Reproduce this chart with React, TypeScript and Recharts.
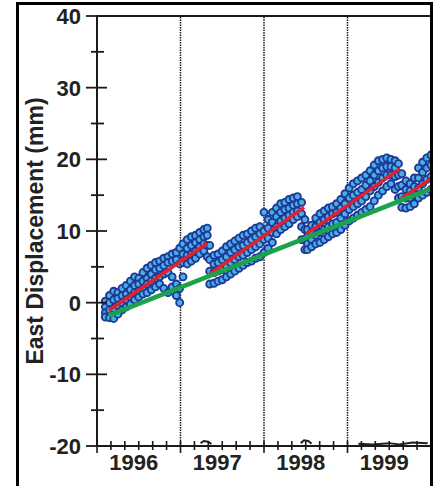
import React from 'react';
import { ComposedChart, Scatter, Line, XAxis, YAxis, ReferenceLine } from 'recharts';

const FONT = '"Liberation Sans", Arial, Helvetica, sans-serif';

// daily east positions, read column by column: [year, values across the band (mm)]
const cloud1996 = [
  [1996.10, 0.2, -0.6, -1.4, -2.0],
  [1996.15, 1.0, 0.0, -1.0, -2.1],
  [1996.20, 1.6, 0.4, -0.8, -2.2],
  [1996.25, 1.4, 0.6, -0.4, -1.6],
  [1996.30, 2.0, 1.0, 0.0, -1.0],
  [1996.35, 2.4, 1.2, 0.4, -0.6],
  [1996.40, 3.0, 1.8, 0.8, -0.2],
  [1996.45, 3.6, 2.4, 1.4, 0.4],
  [1996.50, 3.4, 2.6, 1.6, 0.8],
  [1996.55, 4.2, 3.0, 2.0, 1.2],
  [1996.60, 4.8, 3.4, 2.6, 1.4],
  [1996.65, 5.2, 4.0, 3.0, 1.8],
  [1996.70, 5.6, 4.6, 3.4, 2.2],
  [1996.75, 5.8, 4.8, 3.6, 2.6],
  [1996.80, 6.2, 5.2, 4.0, 2.0],
  [1996.85, 6.4, 5.6, 4.2, 1.4],
  [1996.90, 6.8, 5.8, 3.6, 2.2],
  [1996.95, 7.0, 6.0, 2.6, 1.0],
  [1996.99, 7.6, 5.4, 2.0, 0.0],
  [1997.03, 8.2, 6.8, 5.6, 3.6],
  [1997.08, 8.8, 7.6, 6.6, 5.4],
  [1997.13, 9.2, 8.0, 6.8, 5.8],
  [1997.18, 9.4, 8.4, 7.2, 6.2],
  [1997.23, 9.8, 8.8, 7.8, 6.8],
  [1997.28, 10.2, 9.2, 8.2, 7.2],
  [1997.32, 10.4, 9.4, 8.0, 6.4],
];

const cloud1997 = [
  [1997.35, 8.0, 6.0, 4.4, 2.6],
  [1997.40, 6.6, 5.4, 4.2, 2.7],
  [1997.45, 6.8, 5.6, 4.4, 3.0],
  [1997.50, 7.2, 6.0, 4.6, 3.2],
  [1997.55, 7.8, 6.4, 5.0, 3.6],
  [1997.60, 8.2, 7.0, 5.6, 4.0],
  [1997.65, 8.6, 7.4, 6.0, 4.4],
  [1997.70, 9.0, 7.8, 6.4, 4.8],
  [1997.75, 9.4, 8.0, 6.6, 5.2],
  [1997.80, 9.6, 8.4, 7.0, 5.6],
  [1997.85, 10.0, 8.8, 7.4, 5.8],
  [1997.90, 10.4, 9.2, 7.8, 6.2],
  [1997.95, 10.6, 9.6, 8.2, 6.4],
  [1998.00, 12.6, 10.0, 8.8, 7.0],
  [1998.05, 11.6, 10.4, 9.0, 7.6],
  [1998.10, 12.6, 11.2, 9.8, 8.4],
  [1998.15, 13.2, 12.0, 10.6, 9.6],
  [1998.20, 13.8, 12.6, 11.4, 10.2],
  [1998.25, 14.0, 13.0, 11.8, 10.6],
  [1998.30, 14.4, 13.2, 12.2, 11.0],
  [1998.35, 14.6, 13.6, 12.6, 11.6],
  [1998.40, 14.8, 13.8, 12.8, 12.0],
  [1998.45, 14.0, 12.4, 10.6, 8.8],
  [1998.49, 11.6, 10.2, 8.8, 7.4],
];

const cloud1998 = [
  [1998.52, 10.2, 9.2, 8.2, 7.4],
  [1998.57, 10.8, 9.8, 8.8, 7.8],
  [1998.62, 11.8, 10.6, 9.4, 8.2],
  [1998.67, 12.4, 11.2, 9.8, 8.4],
  [1998.72, 12.8, 11.6, 10.2, 8.8],
  [1998.77, 13.2, 12.0, 10.6, 9.2],
  [1998.82, 13.4, 12.4, 11.0, 9.6],
  [1998.87, 13.8, 12.6, 11.2, 9.8],
  [1998.92, 14.4, 13.2, 11.8, 10.2],
  [1998.97, 15.2, 13.8, 12.4, 10.8],
  [1999.02, 16.0, 14.6, 13.0, 11.4],
  [1999.07, 16.6, 15.0, 13.4, 11.8],
  [1999.12, 17.0, 15.4, 13.8, 12.2],
  [1999.17, 17.4, 15.8, 14.2, 12.6],
  [1999.22, 17.8, 16.4, 14.8, 13.0],
  [1999.27, 18.4, 17.0, 15.6, 13.4],
  [1999.32, 19.2, 17.8, 16.2, 14.2],
  [1999.37, 19.8, 18.4, 16.8, 15.0],
  [1999.42, 20.0, 18.8, 17.4, 15.6],
  [1999.47, 20.2, 19.0, 17.8, 16.2],
  [1999.52, 20.0, 19.0, 17.8, 16.6],
  [1999.57, 19.8, 18.8, 17.6, 15.8],
  [1999.61, 19.4, 17.8, 16.2, 14.6],
];

const cloud1999 = [
  [1999.65, 18.0, 16.4, 14.8, 13.3],
  [1999.70, 17.0, 15.8, 14.6, 13.2],
  [1999.75, 16.6, 15.6, 14.6, 13.4],
  [1999.80, 17.4, 16.2, 15.0, 13.8],
  [1999.85, 18.8, 17.4, 16.0, 14.6],
  [1999.90, 19.6, 18.2, 16.6, 15.0],
  [1999.95, 20.2, 18.8, 17.2, 15.4],
  [2000.00, 20.6, 19.2, 17.6, 15.8],
];

// red: fits between steps, green: long-term trend
const fit1996 = [{ t: 1996.14, v: -1.1 }, { t: 1997.32, v: 8.3 }];
const fit1997 = [{ t: 1997.35, v: 4.0 }, { t: 1998.48, v: 13.3 }];
const fit1998 = [{ t: 1998.51, v: 9.6 }, { t: 1999.63, v: 18.7 }];
const fit1999 = [{ t: 1999.64, v: 14.5 }, { t: 2000.0, v: 17.3 }];
const trend = [{ t: 1996.14, v: -1.8 }, { t: 2000.0, v: 15.9 }];

// small marks sitting on the bottom axis
const bottomMarks = [
  { t: 1997.24, v: -19.6 }, { t: 1997.28, v: -19.3 }, { t: 1997.33, v: -19.4 }, { t: 1997.37, v: -19.7 },
  { t: 1997.5, v: null },
  { t: 1998.44, v: -19.6 }, { t: 1998.48, v: -19.2 }, { t: 1998.53, v: -19.3 }, { t: 1998.57, v: -19.7 },
  { t: 1998.9, v: null },
  { t: 1999.13, v: -19.7 }, { t: 1999.3, v: -19.8 }, { t: 1999.5, v: -19.6 }, { t: 1999.62, v: -19.8 },
  { t: 1999.78, v: -19.5 }, { t: 1999.96, v: -19.6 },
];

const yTicks = [-20, -15, -10, -5, 0, 5, 10, 15, 20, 25, 30, 35, 40];
const xTicks = [
  1996, 1996.167, 1996.333, 1996.5, 1996.667, 1996.833,
  1997, 1997.167, 1997.333, 1997.5, 1997.667, 1997.833,
  1998, 1998.167, 1998.333, 1998.5, 1998.667, 1998.833,
  1999, 1999.167, 1999.333, 1999.5, 1999.667, 1999.833, 2000,
];
const yearLabels: Record<string, string> = {
  '1996.5': '1996',
  '1997.5': '1997',
  '1998.5': '1998',
  '1999.5': '1999',
};
const yearLines = [1997, 1998, 1999];

const cloudPoints = [...cloud1996, ...cloud1997, ...cloud1998, ...cloud1999].flatMap(
  ([t, ...vals]) => vals.map(v => ({ t, v }))
);

const Dot = (props: any) => {
  const { cx, cy } = props;
  if (cx == null || cy == null) return null;
  return <circle cx={cx} cy={cy} r={3.5} fill="#4aaee6" stroke="#1d3896" strokeWidth={1.9} />;
};

const NoDot = () => <g />;

const YTick = (props: any) => {
  const { x, y, payload } = props;
  const major = payload.value % 10 === 0;
  return (
    <g>
      <line x1={x - (major ? 11 : 6)} x2={x + (major ? 10 : 7)} y1={y} y2={y} stroke="#1a1a1a" strokeWidth={1.8} />
      {major && (
        <text x={x - 16} y={y + 8} textAnchor="end" fontFamily={FONT} fontWeight="bold" fontSize={22} fill="#222">
          {payload.value}
        </text>
      )}
    </g>
  );
};

const XTick = (props: any) => {
  const { x, y, payload } = props;
  const v = payload.value;
  const major = Number.isInteger(v);
  const label = yearLabels[String(v)];
  return (
    <g>
      <line x1={x} x2={x} y1={y - 5} y2={y + (major ? 7 : 4)} stroke="#1a1a1a" strokeWidth={1.6} />
      {label && (
        <text x={x - 5} y={y + 24} textAnchor="middle" fontFamily={FONT} fontWeight="bold" fontSize={22} fill="#222">
          {label}
        </text>
      )}
    </g>
  );
};

export default function App() {
  return (
    <div style={{ position: 'absolute', left: 0, top: 0, width: 438, height: 486, overflow: 'hidden', background: '#fff' }}>
      <ComposedChart width={438} height={486} margin={{ top: 16, right: 7, bottom: 0, left: 0 }}>
        <XAxis
          type="number"
          dataKey="t"
          domain={[1996, 2000]}
          ticks={xTicks}
          interval={0}
          tickSize={0}
          tickMargin={0}
          tick={XTick}
          height={40}
          allowDataOverflow
          axisLine={{ stroke: '#1a1a1a', strokeWidth: 2.2 }}
        />
        <YAxis
          type="number"
          dataKey="v"
          domain={[-20, 40]}
          ticks={yTicks}
          interval={0}
          tickSize={0}
          tickMargin={0}
          tick={YTick}
          width={97}
          allowDataOverflow
          axisLine={{ stroke: '#1a1a1a', strokeWidth: 2 }}
        />
        <ReferenceLine y={40} stroke="#1a1a1a" strokeWidth={1.8} />
        {yearLines.map(yr => (
          <ReferenceLine key={yr} x={yr} stroke="#1a1a1a" strokeWidth={1.5} strokeDasharray="1.5 1" />
        ))}
        <Line data={bottomMarks} dataKey="v" stroke="#222" strokeWidth={2} dot={false} isAnimationActive={false} type="linear" />
        <Scatter data={cloudPoints} dataKey="v" shape={Dot} isAnimationActive={false} />
        {[fit1996, fit1997, fit1998, fit1999].map((seg, i) => (
          <Scatter
            key={i}
            data={seg}
            dataKey="v"
            shape={NoDot}
            line={{ stroke: '#e3212b', strokeWidth: 3.5 }}
            isAnimationActive={false}
          />
        ))}
        <Scatter
          data={trend}
          dataKey="v"
          shape={NoDot}
          line={{ stroke: '#1aa34a', strokeWidth: 4.5 }}
          isAnimationActive={false}
        />
      </ComposedChart>
      <svg width={438} height={486} style={{ position: 'absolute', left: 0, top: 0, pointerEvents: 'none' }}>
        <rect x={17.5} y={3.5} width={414} height={500} fill="none" stroke="#000" strokeWidth={3} />
        <text
          x={43}
          y={231}
          transform="rotate(-90 43 231)"
          textAnchor="middle"
          fontFamily={FONT}
          fontWeight="bold"
          fontSize={23}
          fill="#222"
        >
          East Displacement (mm)
        </text>
      </svg>
    </div>
  );
}
